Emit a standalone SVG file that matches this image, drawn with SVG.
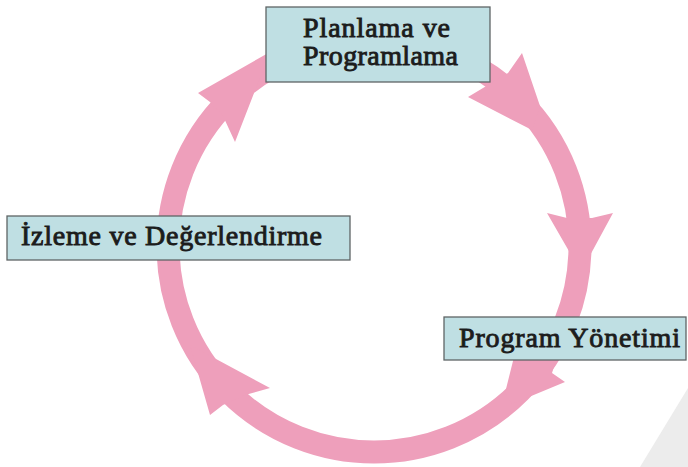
<svg xmlns="http://www.w3.org/2000/svg" width="688" height="467" viewBox="0 0 688 467">
<style>
.box{fill:#bfdfe3;stroke:#5f6566;stroke-width:1.3}
.lbl{font-family:"Liberation Serif","Times New Roman",serif;font-weight:normal;font-size:28px;fill:#1c1c1c;stroke:#1c1c1c;stroke-width:0.9}
.ring{fill:none;stroke:#ee9fbb;stroke-width:23}
.head{fill:#ee9fbb;stroke:none}
</style>
<rect width="688" height="467" fill="#ffffff"/>
<polygon points="688,388 688,467 640,467" fill="#ececec"/>
<g id="connectors">
<circle class="ring" cx="374" cy="246" r="206"/>
<polygon class="head" points="198,93 270,52 235,142 223,116 210,102"/>
<polygon class="head" points="468,97 508,73 522,53 540,106 532,130"/>
<polygon class="head" points="547,213 567,218 592,218 613,213 581,272"/>
<polygon class="head" points="557,357 552,373 565,382 512,404 505,393 514,357"/>
<polygon class="head" points="190,345 210,415 223,405 245,395 270,388"/>
</g>
<g id="node-planlama">
<rect class="box" x="266" y="7" width="224" height="75"/>
<text class="lbl" x="376.5" y="37" text-anchor="middle" textLength="147">Planlama ve</text>
<text class="lbl" x="380.5" y="65" text-anchor="middle" textLength="155">Programlama</text>
</g>
<g id="node-izleme">
<rect class="box" x="7" y="216" width="343" height="44"/>
<text class="lbl" x="21" y="245" textLength="301">İzleme ve Değerlendirme</text>
</g>
<g id="node-yonetim">
<rect class="box" x="444" y="317" width="242" height="43"/>
<text class="lbl" x="459" y="347" textLength="221">Program Yönetimi</text>
</g>
</svg>
